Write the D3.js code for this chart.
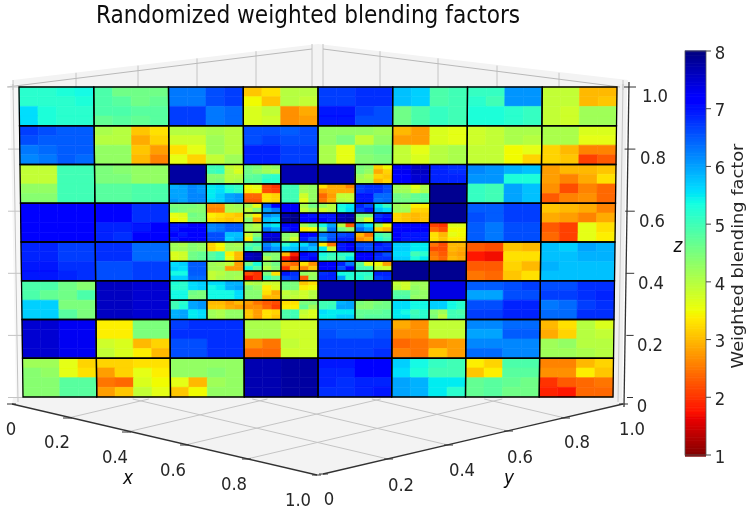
<!DOCTYPE html>
<html>
<head>
<meta charset="utf-8">
<script src="https://cdn.jsdelivr.net/npm/d3@7/dist/d3.min.js"></script>
<style>
html, body { margin: 0; background: #fff; }
text { font-family: "DejaVu Sans", sans-serif; fill: #262626; }
</style>
</head>
<body>
<div id="root"></div>
<script>
// each cell is a leaf (1, 4 or 16 values, row by row) or four child cells
const row0 = [
  [5.2,5.2,5.3,5.4, 5.2,5.2,5.2,5.3, 5.6,5.3,5.2,5.2, 5.6,5.3,5.2,5.2],
  [4.9,4.6,4.6,4.6, 4.9,4.8,4.6,4.7, 4.9,4.9,4.8,4.8, 4.7,4.8,4.7,4.8],
  [6.3,6.3,6.6,6.7, 6.3,6.3,6.6,6.7, 6.7,6.7,6.3,6.4, 6.7,6.7,6.3,6.4],
  [3.1,3.3,4.0,4.0, 3.5,3.1,4.0,3.9, 3.7,3.9,2.7,2.9, 3.7,3.8,2.7,2.8],
  [6.7,6.7,6.8,6.8, 6.7,6.7,6.8,6.8, 7.0,7.0,6.7,6.6, 7.0,7.0,6.6,6.6],
  [5.8,5.7,4.9,5.0, 5.8,5.7,4.9,5.0, 4.6,4.9,5.1,5.0, 4.6,4.9,5.1,5.0],
  [5.1,5.1,6.1,6.1, 5.2,5.0,6.1,6.1, 5.3,5.3,5.2,5.1, 5.3,5.3,5.2,5.1],
  [3.9,3.9,3.0,3.0, 3.9,3.9,3.0,3.1, 3.9,3.8,4.2,4.2, 3.9,3.8,4.2,4.2]
];
const row1 = [
  [6.7,6.6,6.5,6.5, 6.6,6.5,6.5,6.5, 6.3,6.4,6.5,6.5, 6.2,6.3,6.5,6.4],
  [4.1,4.0,3.1,3.3, 4.0,4.0,2.9,3.2, 4.3,4.3,3.1,2.8, 4.3,4.3,3.0,2.6],
  [4.0,4.0,4.1,4.0, 3.8,3.8,4.2,4.0, 3.3,3.6,4.2,4.0, 3.6,3.2,3.9,4.2],
  [6.6,6.6,6.5,6.6, 6.6,6.7,6.6,6.6, 6.9,6.9,6.7,6.7, 6.9,6.9,6.7,6.7],
  [4.3,4.3,4.3,4.2, 4.3,4.5,3.9,4.3, 4.1,3.6,4.5,4.6, 4.1,3.6,4.4,4.5],
  [3.0,2.8,3.7,3.6, 2.8,2.8,3.7,3.6, 3.9,3.6,4.0,4.1, 3.9,3.7,4.0,4.1],
  [3.8,3.9,4.1,4.1, 3.8,3.9,4.1,4.0, 3.9,3.9,3.5,3.6, 3.9,3.9,3.5,3.2],
  [4.1,4.1,3.7,3.7, 4.1,4.1,3.6,3.6, 3.2,3.0,2.6,2.6, 3.2,3.1,2.1,2.3]
];
const row2 = [
  [3.9,3.9,5.0,5.0, 3.9,3.9,5.0,5.0, 4.3,4.3,5.0,5.0, 4.4,4.4,5.0,5.0],
  [4.5,4.4,4.3,4.3, 4.5,4.5,4.3,4.3, 4.8,4.8,4.9,4.9, 4.8,4.8,4.9,4.9],
  [[7.8],
   [5.0,5.0,3.9,3.8, 5.0,5.1,4.0,3.7, 4.4,4.4,4.0,4.0, 4.4,4.5,4.0,4.1],
   [5.9,6.0,6.2,6.1, 6.0,6.0,6.2,6.1, 6.0,6.0,6.2,6.2, 6.1,6.0,6.2,6.2],
   [5.5,5.6,5.2,5.1, 5.5,5.6,5.3,5.1, 5.5,5.7,6.0,6.1, 5.6,5.7,6.0,6.1]],
  [[4.6,4.5,4.2,4.3, 4.6,4.4,4.2,4.1, 4.7,4.8,5.1,5.2, 4.8,4.8,5.2,5.2],
   [7.7],
   [3.5,3.6,2.2,2.0, 3.4,3.5,2.2,2.1, 2.4,2.4,3.3,3.2, 2.3,2.3,3.3,3.2],
   [5.0,5.0,4.2,4.3, 5.0,5.0,4.2,4.3, 5.0,5.0,3.8,4.3, 5.0,5.0,3.6,4.3]],
  [[7.8],
   [4.5,4.4,3.2,3.5, 4.5,4.3,2.9,3.2, 4.2,4.0,3.2,3.1, 4.1,4.1,3.0,3.2],
   [3.3,2.9,2.9,2.6, 2.8,2.9,2.9,2.9, 2.4,2.8,3.9,3.9, 2.5,2.9,4.0,3.9],
   [6.7,6.8,6.8,6.6, 6.7,6.8,6.8,6.6, 7.0,7.0,6.4,6.4, 7.0,7.0,6.3,6.4]],
  [[7.3,7.3,7.6,7.6, 7.3,7.3,7.6,7.6, 7.2,7.2,7.5,7.5, 7.2,7.2,7.5,7.5],
   [6.9,6.9,6.8,6.8, 6.9,6.9,6.8,6.8, 6.9,6.9,6.9,6.9, 6.9,6.9,6.9,6.9],
   [4.2,4.1,3.6,4.1, 4.2,4.2,3.8,4.1, 4.6,4.5,4.7,4.8, 4.6,4.6,4.7,4.8],
   [7.9]],
  [6.2,6.1,5.9,5.8, 6.1,6.1,5.3,5.3, 5.1,5.0,6.0,5.8, 5.1,5.0,6.0,5.8],
  [2.8,3.0,3.0,3.1, 2.8,2.6,2.9,3.3, 2.7,2.2,2.6,2.4, 2.3,2.6,2.7,2.4]
];
const row3 = [
  [7.2,7.2,7.1,7.1, 7.2,7.2,7.1,7.1, 7.1,7.1,7.1,7.1, 7.1,7.1,7.1,7.1],
  [7.1,7.1,6.8,6.8, 7.1,7.1,6.8,6.8, 6.9,6.9,7.0,7.1, 6.9,6.8,7.1,7.1],
  [[4.5,4.5,4.5,4.4, 4.6,4.5,4.4,4.4, 3.6,3.7,4.6,4.5, 3.5,3.6,4.5,4.5],
   [2.7,2.7,4.1,4.2, 2.6,2.6,4.1,4.1, 3.4,3.3,3.2,3.1, 3.3,3.2,3.1,3.2],
   [7.0,7.0,7.2,7.1, 7.0,7.1,7.2,7.2, 7.1,7.0,7.2,7.1, 7.0,7.1,7.1,7.2],
   [6.2,6.3,6.5,6.5, 6.2,6.3,6.5,6.5, 6.6,6.6,5.8,5.8, 6.6,6.6,5.7,5.9]],
  [[[4.2,3.6,3.9,4.4],[6.5,7.1,6.0,6.3],[4.0,3.4,4.4,2.8],[6.2,6.0,5.8,5.7]],
   [[7.1,7.1,7.2,7.2],[4.1,4.6,3.9,4.2],[7.7,7.9,7.9,8.0],[7.2,7.0,7.2,7.2]],
   [[4.3,4.0,4.2,4.1],[5.7,5.5,6.3,6.0],[3.8,4.4,3.4,4.8],[7.4,7.4,7.6,7.6]],
   [[7.1,7.1,7.0,7.2],[4.2,4.6,3.4,3.5],[4.4,4.2,4.3,3.8],[7.2,7.2,7.0,6.6]]],
  [[[4.3,4.0,3.8,4.0],[5.4,5.5,5.3,5.6],[7.0,7.0,7.1,7.0],[7.6,7.7,7.7,7.8]],
   [[6.9,6.6,6.7,7.0],[5.5,5.1,5.8,5.6],[4.6,4.6,4.3,3.7],[6.8,7.0,7.0,7.1]],
   [[5.4,6.0,4.6,6.3],[4.0,2.3,4.6,4.3],[6.3,6.5,6.0,6.6],[6.6,6.7,6.9,6.9]],
   [[6.0,5.6,6.4,6.0],[4.2,3.5,3.2,3.0],[3.0,2.5,2.7,2.9],[5.0,4.8,5.3,5.0]]],
  [[4.2,4.1,3.4,3.4, 4.2,4.2,3.2,3.2, 3.2,3.1,3.0,3.1, 3.2,3.1,3.0,3.1],
   [7.9],
   [7.2,7.2,7.1,7.1, 7.2,7.2,7.1,7.1, 7.1,7.0,7.0,7.0, 7.1,7.0,7.0,7.0],
   [2.1,2.0,3.7,3.7, 2.4,2.2,3.5,3.5, 3.3,3.0,3.6,3.5, 3.3,3.1,3.4,3.4]],
  [6.5,6.5,6.7,6.7, 6.6,6.5,6.7,6.7, 6.5,6.3,6.6,6.6, 6.5,6.3,6.6,6.6],
  [3.1,3.0,2.9,2.6, 2.9,2.8,2.6,2.9, 2.3,2.1,3.6,3.3, 2.4,2.1,3.6,3.4]
];
const row4 = [
  [6.9,6.9,6.7,6.7, 6.9,6.9,6.7,6.7, 7.0,7.0,6.8,6.8, 7.0,7.0,6.9,6.8],
  [6.8,6.8,6.4,6.4, 6.8,6.8,6.4,6.4, 6.6,6.6,6.7,6.7, 6.6,6.6,6.7,6.7],
  [[4.2,4.1,4.4,4.3, 4.2,4.2,4.4,4.3, 3.7,3.8,4.6,4.7, 3.7,3.8,4.6,4.7],
   [3.2,3.5,4.2,4.1, 3.2,3.4,4.2,4.2, 4.8,5.0,3.4,3.0, 4.8,5.0,3.6,3.0],
   [5.6,5.7,6.5,6.5, 5.7,5.6,6.5,6.5, 5.4,5.4,6.5,6.5, 5.7,5.7,6.4,6.4],
   [4.2,4.1,3.9,2.8, 4.2,4.2,2.8,2.8, 3.9,4.0,4.2,4.2, 3.9,4.1,4.2,4.1]],
  [[[4.8,5.0,5.1,4.7],[6.2,5.8,6.4,6.1],[7.6,7.7,7.6,7.7],[4.5,4.4,4.1,4.4]],
   [[5.2,5.6,5.7,5.8],[5.6,6.1,6.0,5.8],[3.0,1.9,1.9,1.5],[7.2,7.0,7.0,7.1]],
   [[4.6,5.3,5.4,4.8],[4.3,4.6,4.0,4.4],[2.2,2.0,1.7,2.0],[4.5,3.3,5.0,4.7]],
   [[2.6,2.4,2.0,2.9],[3.3,2.7,2.6,3.1],[7.0,6.8,6.6,6.7],[4.3,4.2,2.3,4.3]]],
  [[[3.4,2.5,5.5,3.8],[7.0,7.1,7.0,7.1],[5.4,5.1,5.2,5.0],[5.2,5.2,5.0,5.5]],
   [[6.6,6.6,6.7,6.6],[7.0,6.8,6.8,6.9],[7.1,7.2,7.1,7.2],[6.9,6.6,6.8,6.8]],
   [[7.3,7.1,7.1,7.2],[6.9,6.3,6.6,7.1],[6.8,6.9,6.9,6.9],[5.4,5.3,6.0,5.2]],
   [[4.8,3.6,5.0,5.0],[3.5,2.8,3.9,3.8],[5.2,5.2,5.3,5.0],[6.9,6.9,6.7,6.8]]],
  [[5.7,5.7,5.5,5.5, 5.7,5.7,5.5,5.5, 5.6,5.6,5.0,5.2, 5.7,5.7,5.3,5.5],
   [2.5,2.2,3.0,3.0, 2.2,2.2,3.0,2.9, 2.5,2.3,2.9,2.8, 2.6,2.4,3.0,2.9],
   [7.9],
   [7.9]],
  [2.3,2.2,3.1,3.0, 1.8,1.7,3.3,3.3, 2.3,2.3,3.2,3.0, 2.5,2.4,3.1,3.3],
  [5.8,5.7,6.0,5.9, 5.8,5.8,5.9,5.9, 5.9,5.8,5.8,5.8, 5.8,5.8,5.8,5.8]
];
const row5 = [
  [4.9,4.9,4.6,4.4, 4.9,4.7,4.6,4.9, 5.7,5.7,4.5,4.5, 5.7,5.7,4.8,4.5],
  [7.6,7.6,7.5,7.5, 7.6,7.6,7.5,7.5, 7.6,7.6,7.5,7.5, 7.6,7.6,7.5,7.5],
  [[5.3,5.2,5.6,5.7, 5.2,5.2,5.6,5.7, 5.4,5.4,4.6,4.5, 5.4,5.4,4.5,4.5],
   [5.6,5.6,5.9,5.9, 5.4,5.5,5.9,6.0, 5.4,5.4,5.4,5.6, 5.4,5.4,5.4,5.6],
   [5.0,5.2,6.0,6.1, 5.0,5.3,6.0,6.1, 5.9,6.0,5.5,5.6, 5.9,6.0,5.5,5.6],
   [3.0,3.0,2.8,3.0, 3.1,3.1,2.9,2.8, 4.2,4.1,4.3,4.3, 4.2,4.1,4.3,4.3]],
  [[4.0,4.1,3.8,3.8, 4.5,4.3,3.4,3.7, 4.4,4.4,3.3,2.9, 4.4,4.4,3.0,3.0],
   [4.6,4.5,3.1,3.3, 4.6,4.5,3.4,3.5, 3.9,4.0,3.8,4.0, 4.0,3.9,3.8,4.0],
   [2.8,2.5,2.3,2.2, 2.7,2.7,2.4,2.1, 3.1,2.8,3.3,3.2, 3.1,2.8,3.3,3.1],
   [3.3,3.3,4.5,4.5, 3.4,3.4,4.7,4.2, 4.9,5.0,3.9,3.7, 4.9,5.0,3.8,3.7]],
  [[7.8],
   [7.8],
   [5.0,5.0,5.9,6.0, 5.0,5.1,6.0,6.0, 5.6,5.5,5.5,5.5, 5.5,5.5,5.7,5.7],
   [4.5,4.4,4.5,4.6, 4.4,4.4,4.6,4.6, 4.7,4.7,4.7,4.8, 4.7,4.8,4.8,4.8]],
  [[3.9,3.8,4.2,4.2, 4.0,3.8,4.3,4.2, 4.8,4.8,4.4,4.3, 4.9,4.9,4.3,4.3],
   [7.4],
   [5.6,5.6,5.4,5.4, 5.6,5.6,5.4,5.4, 5.5,5.4,5.0,5.2, 5.5,5.5,5.1,5.2],
   [5.7,5.7,5.4,5.2, 5.7,5.7,5.4,5.2, 4.4,4.2,5.0,4.9, 4.5,4.0,5.0,5.0]],
  [6.5,6.5,6.6,6.7, 6.0,6.0,6.6,6.6, 6.6,6.6,6.9,6.9, 6.7,6.7,6.9,6.9],
  [6.6,6.6,6.8,6.8, 6.7,6.7,6.8,6.9, 6.3,6.4,6.7,6.8, 6.4,6.4,6.8,6.8]
];
const row6 = [
  [7.5,7.5,7.3,7.3, 7.5,7.5,7.3,7.3, 7.5,7.5,7.3,7.3, 7.5,7.5,7.3,7.3],
  [3.4,3.4,4.5,4.5, 3.4,3.4,4.5,4.5, 3.8,3.7,3.0,3.2, 3.9,3.7,3.4,3.0],
  [6.7,6.8,6.8,6.8, 6.8,6.8,6.8,6.8, 6.6,6.6,6.8,6.8, 6.6,6.6,6.8,6.8],
  [4.1,4.1,3.8,3.8, 4.1,4.1,3.8,3.8, 2.7,2.5,3.9,3.8, 2.4,2.4,3.8,3.8],
  [6.5,6.5,6.5,6.5, 6.6,6.5,6.5,6.6, 6.7,6.7,6.7,6.7, 6.7,6.7,6.7,6.8],
  [2.9,2.7,3.9,3.9, 2.7,2.7,3.9,3.9, 2.4,2.5,2.7,2.8, 2.6,2.5,3.1,2.8],
  [6.2,6.2,6.4,6.4, 6.0,6.0,6.5,6.5, 6.2,6.2,6.2,6.2, 6.4,6.4,6.2,6.2],
  [3.0,3.3,4.0,3.7, 2.9,3.2,4.0,3.9, 4.2,4.3,4.0,4.0, 4.2,4.2,4.1,4.0]
];
const row7 = [
  [4.2,4.2,3.6,3.2, 4.4,4.3,3.6,3.3, 4.4,4.4,4.8,4.8, 4.4,4.4,4.8,4.8],
  [3.2,3.2,3.3,3.3, 2.8,3.2,3.6,3.4, 2.5,2.4,3.7,3.5, 2.8,3.1,3.9,3.6],
  [4.3,4.3,4.3,4.3, 4.3,4.3,4.4,4.3, 3.6,3.0,4.2,4.3, 3.1,3.5,4.3,4.3],
  [7.7,7.7,7.8,7.8, 7.7,7.7,7.8,7.8, 7.7,7.7,7.8,7.8, 7.7,7.7,7.8,7.8],
  [7.0,7.0,7.1,7.1, 6.9,6.9,7.1,7.1, 6.9,6.8,6.9,6.9, 6.8,6.8,6.9,7.0],
  [5.7,5.4,5.1,5.0, 5.6,5.3,5.0,5.0, 6.0,5.9,5.5,5.5, 6.0,5.9,5.5,5.2],
  [3.4,3.2,4.9,4.9, 3.1,3.4,4.8,4.8, 4.7,4.8,4.7,4.6, 4.7,4.8,4.6,4.6],
  [2.6,2.6,3.0,3.2, 2.7,2.7,3.4,3.1, 2.0,2.3,2.4,2.5, 1.9,1.8,2.4,2.4]
];
const rows = [row0, row1, row2, row3, row4, row5, row6, row7];

const xyTicks = [0, 0.2, 0.4, 0.6, 0.8, 1.0];
const zTicks = [0, 0.2, 0.4, 0.6, 0.8, 1.0];
const barTicks = [1, 2, 3, 4, 5, 6, 7, 8];
const fmt = d => d === 0 ? "0" : d3.format(".1f")(d);

const width = 746, height = 510;
const svg = d3.select("#root").append("svg")
    .attr("width", width)
    .attr("height", height)
    .style("display", "block");

const defs = svg.append("defs");
defs.append("filter").attr("id", "soft")
    .attr("x", "-5%").attr("y", "-5%").attr("width", "110%").attr("height", "110%")
  .append("feGaussianBlur").attr("stdDeviation", 0.7);

// jet colormap, reversed so 8 is navy and 1 is dark red
const jetR = d3.scaleLinear([0, 0.35, 0.66, 0.89, 1], [0, 0, 255, 255, 128]);
const jetG = d3.scaleLinear([0, 0.125, 0.375, 0.64, 0.91, 1], [0, 0, 255, 255, 0, 0]);
const jetB = d3.scaleLinear([0, 0.11, 0.34, 0.65, 1], [128, 255, 255, 0, 0]);
const tScale = d3.scaleLinear([8, 1], [0, 1]);
const color = v => {
    const t = tScale(v);
    return d3.rgb(jetR(t), jetG(t), jetB(t)).formatHex();
};

// the two faces lean in slightly towards the bottom
const yGrid = d3.scaleLinear([0, 8], [87, 397]);
const colWidth = d3.scaleLinear([0, 8], [74.75, 73.75]);
const project = (u, v) => [318 + (u - 4) * colWidth(v), yGrid(v)];
const quad = (u, v, w, h) => [project(u, v), project(u + w, v), project(u + w, v + h), project(u, v + h)].join(" ");

// flatten the quadtree into pixels and leaf outlines
const pixels = [], leaves = [];
function walk(cell, u, v, size) {
    if (Array.isArray(cell[0])) {
        cell.forEach((c, i) => walk(c, u + (i % 2) * size / 2, v + (i >> 1) * size / 2, size / 2));
        return;
    }
    const n = Math.sqrt(cell.length);
    cell.forEach((val, i) => {
        pixels.push({val, u: u + (i % n) * size / n, v: v + Math.floor(i / n) * size / n, size: size / n});
    });
    leaves.push({u, v, size});
}
rows.forEach((row, r) => row.forEach((cell, c) => walk(cell, c, r, 1)));

const root = svg.append("g").attr("filter", "url(#soft)");

// panes
const grey = "#c4c4c4";
const paneL = [[13, 80], [318, 44], [318, 90], [13, 90]];
const paneR = [[318, 44], [628, 80], [628, 90], [318, 90]];
root.selectAll(".pane").data([paneL, paneR]).enter().append("polygon")
    .attr("points", d => d.join(" "))
    .attr("fill", "#f3f3f3");
root.append("polygon").attr("points", [[10, 84], [19, 84], [23, 400], [16, 400]].join(" ")).attr("fill", "#f7f7f7");
root.append("polygon").attr("points", [[617, 84], [627, 84], [622, 402], [613, 400]].join(" ")).attr("fill", "#f0f0f0");
root.append("polygon").attr("points", [[13, 398], [623, 398], [623, 404], [320, 475], [12, 404]].join(" ")).attr("fill", "#f3f3f3");

// wall grid
const wallX = d3.scaleLinear([0, 0.2, 0.4, 0.6, 0.8, 1], [312, 256, 197, 138, 76, 13]);
const wallTop = d3.scaleLinear([0, 1], [44, 80]);
const wallXR = d3.scaleLinear([0, 0.2, 0.4, 0.6, 0.8, 1], [323, 380, 438, 497, 559, 623]);
root.selectAll(".gl").data(xyTicks).enter().append("line")
    .attr("x1", d => wallX(d)).attr("x2", d => wallX(d))
    .attr("y1", d => wallTop(d)).attr("y2", 90)
    .attr("stroke", grey);
root.selectAll(".gr").data(xyTicks).enter().append("line")
    .attr("x1", d => wallXR(d)).attr("x2", d => wallXR(d))
    .attr("y1", d => wallTop(d)).attr("y2", 90)
    .attr("stroke", grey);
root.append("line").attr("x1", 7).attr("y1", 87).attr("x2", 312).attr("y2", 49).attr("stroke", "#b8b8b8");
root.append("line").attr("x1", 323).attr("y1", 49).attr("x2", 620).attr("y2", 87).attr("stroke", "#b8b8b8");
root.append("line").attr("x1", 13).attr("y1", 84).attr("x2", 18).attr("y2", 402).attr("stroke", grey);
root.append("line").attr("x1", 623).attr("y1", 84).attr("x2", 618).attr("y2", 402).attr("stroke", grey);

const zPx = d3.scaleLinear([0, 1], [397.5, 87]);
root.selectAll(".gz").data(zTicks).enter().append("line")
    .attr("x1", 8).attr("x2", 23)
    .attr("y1", d => zPx(d)).attr("y2", d => zPx(d))
    .attr("stroke", grey);

// floor grid and axis ticks
const xAxisX = d3.scaleLinear(xyTicks, [12, 68, 127, 185, 247, 317]);
const xAxisY = d3.scaleLinear(xyTicks, [404, 418, 432, 445, 459, 475]);
const yAxisX = d3.scaleLinear(xyTicks, [323, 388, 448, 508, 565, 623]);
const yAxisY = d3.scaleLinear(xyTicks, [474, 459, 445, 431, 418, 404]);
const backY = 399;
root.selectAll(".fx").data(xyTicks.slice(1, 5)).enter().append("line")
    .attr("x1", d => xAxisX(d)).attr("y1", d => xAxisY(d))
    .attr("x2", d => xAxisX(d) + (xAxisY(d) - backY) / 0.235).attr("y2", backY)
    .attr("stroke", grey);
root.selectAll(".fy").data(xyTicks.slice(1, 5)).enter().append("line")
    .attr("x1", d => yAxisX(d)).attr("y1", d => yAxisY(d))
    .attr("x2", d => yAxisX(d) - (yAxisY(d) - backY) / 0.235).attr("y2", backY)
    .attr("stroke", grey);

// heatmap
root.selectAll(".px").data(pixels).enter().append("polygon")
    .attr("points", d => quad(d.u, d.v, d.size, d.size))
    .attr("fill", d => color(d.val))
    .attr("stroke", d => color(d.val))
    .attr("stroke-width", 0.6);
root.selectAll(".leaf").data(leaves).enter().append("polygon")
    .attr("points", d => quad(d.u, d.v, d.size, d.size))
    .attr("fill", "none")
    .attr("stroke", "#000")
    .attr("stroke-width", d => d.size === 1 ? 1.3 : 1.1);

// axis spines
const spine = "#333";
root.append("line").attr("x1", 12).attr("y1", 404).attr("x2", 317).attr("y2", 475).attr("stroke", spine).attr("stroke-width", 1.3);
root.append("line").attr("x1", 323).attr("y1", 474).attr("x2", 623).attr("y2", 404).attr("stroke", spine).attr("stroke-width", 1.3);
root.append("line").attr("x1", 629).attr("y1", 82).attr("x2", 624).attr("y2", 407).attr("stroke", spine).attr("stroke-width", 1.3);
root.selectAll(".tx").data(xyTicks).enter().append("line")
    .attr("x1", d => xAxisX(d) - 5).attr("x2", d => xAxisX(d) + 4)
    .attr("y1", d => xAxisY(d)).attr("y2", d => xAxisY(d)).attr("stroke", spine);
root.selectAll(".ty").data(xyTicks).enter().append("line")
    .attr("x1", d => yAxisX(d) - 4).attr("x2", d => yAxisX(d) + 5)
    .attr("y1", d => yAxisY(d)).attr("y2", d => yAxisY(d)).attr("stroke", spine);
root.selectAll(".tz").data(zTicks).enter().append("line")
    .attr("x1", d => 624 + (1 - d) * 3).attr("x2", d => 633 + (d * 3))
    .attr("y1", d => zPx(d)).attr("y2", d => zPx(d)).attr("stroke", spine);

// the picture is a little stretched vertically, so text is too
const stretch = (x, y) => `translate(${x},${y}) scale(1,1.1)`;
const labelFont = 16.5;
const addLabels = (cls, data, xf, yf) => root.selectAll("." + cls).data(data).enter().append("text")
    .attr("class", cls)
    .attr("transform", d => stretch(xf(d), yf(d)))
    .attr("text-anchor", "middle")
    .attr("dominant-baseline", "central")
    .attr("font-size", labelFont)
    .text(fmt);
const xLabX = d3.scaleLinear(xyTicks, [11, 57, 115, 173, 234, 298]);
const xLabY = d3.scaleLinear(xyTicks, [429, 442, 457, 470, 484, 500]);
const yLabX = d3.scaleLinear(xyTicks, [329, 401, 462, 520, 577, 632]);
const yLabY = d3.scaleLinear(xyTicks, [499, 485, 470, 457, 442, 429]);
const zLabX = d3.scaleLinear(zTicks, [642, 650, 651, 652, 653, 655]);
const zLabY = d3.scaleLinear(zTicks, [406, 345, 283, 221, 158, 96]);
addLabels("lx", xyTicks, xLabX, xLabY);
addLabels("ly", xyTicks, yLabX, yLabY);
addLabels("lz", zTicks, zLabX, zLabY);

root.selectAll(".axis-name").data([["x", 128, 477], ["y", 509, 477], ["z", 678, 245]]).enter().append("text")
    .attr("transform", d => stretch(d[1], d[2]))
    .attr("text-anchor", "middle")
    .attr("dominant-baseline", "central")
    .attr("font-size", 17)
    .attr("font-style", "italic")
    .style("fill", "#111")
    .text(d => d[0]);

// colorbar
const barY = d3.scaleLinear([8, 1], [51, 455]);
const barSteps = d3.range(1, 8.001, 7 / 256);
root.selectAll(".bar").data(barSteps).enter().append("rect")
    .attr("x", 685)
    .attr("width", 21)
    .attr("y", d => barY(d) - 0.5)
    .attr("height", 2.2)
    .attr("fill", d => color(d));
root.append("rect").attr("x", 685).attr("y", 51).attr("width", 21).attr("height", 404)
    .attr("fill", "none").attr("stroke", "#555").attr("stroke-width", 0.8);
root.selectAll(".bt").data(barTicks).enter().append("line")
    .attr("x1", 706).attr("x2", 711)
    .attr("y1", d => barY(d)).attr("y2", d => barY(d))
    .attr("stroke", "#444");
root.selectAll(".bl").data(barTicks).enter().append("text")
    .attr("transform", d => stretch(720, barY(d) + 1.5))
    .attr("text-anchor", "middle")
    .attr("dominant-baseline", "central")
    .attr("font-size", labelFont)
    .text(d => d);
root.append("text")
    .attr("transform", "translate(737,256) rotate(-90) scale(1,0.93)")
    .attr("text-anchor", "middle")
    .attr("dominant-baseline", "central")
    .attr("font-size", 17.8)
    .text("Weighted blending factor");

root.append("text")
    .attr("transform", stretch(308, 15))
    .attr("text-anchor", "middle")
    .attr("dominant-baseline", "central")
    .attr("font-size", 21.7)
    .style("fill", "#111")
    .text("Randomized weighted blending factors");
</script>
</body>
</html>
